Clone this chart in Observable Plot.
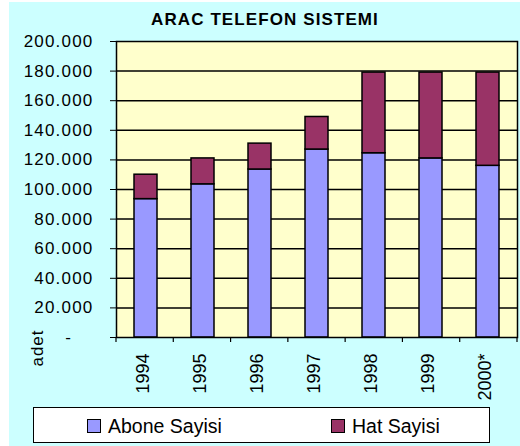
<!DOCTYPE html>
<html><head><meta charset="utf-8">
<script src="https://cdn.jsdelivr.net/npm/d3@7"></script>
<script src="https://cdn.jsdelivr.net/npm/@observablehq/plot@0.6"></script>
<style>
body{margin:0;background:#fff;}
#wrap{position:relative;width:520px;height:446px;overflow:hidden;font-family:"Liberation Sans",Arial,sans-serif;}
#bg{position:absolute;left:9px;top:2px;right:0;bottom:0;background:#CCFFFF;}
#title{position:absolute;left:0;width:530px;top:11px;line-height:17px;text-align:center;font-weight:bold;font-size:17px;letter-spacing:1.1px;color:#000;}
#chart{position:absolute;left:0;top:0;}
#legend{position:absolute;left:33px;top:407px;width:455px;height:34px;background:#fff;border:1px solid #000;}
.item{position:absolute;top:0;height:34px;font-size:19.5px;line-height:34px;color:#000;white-space:nowrap;}
.sw{position:absolute;top:11px;width:12px;height:12px;border:1px solid #000;}
.lab{position:absolute;top:1px;}
</style>
</head><body>
<div id="wrap">
  <div id="bg"></div>
  <div id="chart"></div>
  <div id="title">ARAC TELEFON SISTEMI</div>
  <div id="legend"></div>
</div>
<script>
const years = ["1994","1995","1996","1997","1998","1999","2000*"];
const seriesNames = ["Abone Sayisi","Hat Sayisi"];
const aboneSayisi = [93500,103500,113500,127000,124500,121000,116000];
const hatSayisi = [16500,17500,17500,22000,54500,58000,63000];
const seriesColors = ["#9999FF","#993366"];
const yTicks = [0,20000,40000,60000,80000,100000,120000,140000,160000,180000,200000];
const yLabel = "adet";

const data = years.flatMap((y,i)=>[
  {year:y, series:seriesNames[0], value:aboneSayisi[i]},
  {year:y, series:seriesNames[1], value:hatSayisi[i]}
]);

const fmt = d => d === 0 ? "-\u2007\u2007" : d3.format(",")(d).replace(/,/g,".");

const plot = Plot.plot({
  width: 520,
  height: 400,
  marginLeft: 116,
  marginRight: 3,
  marginTop: 41,
  marginBottom: 63,
  style: {background:"transparent", fontFamily:"'Liberation Sans', Arial, sans-serif", color:"#000"},
  x: {domain: years, paddingInner: 0.59, paddingOuter: 0.295, axis: null},
  y: {domain: [0,200000], axis: null},
  color: {domain: seriesNames, range: seriesColors},
  marks: [
    Plot.frame({fill:"#FFFFCC", stroke:null}),
    Plot.ruleY(yTicks.slice(1,-1), {stroke:"#000", strokeWidth:1.5}),
    Plot.barY(data, {x:"year", y:"value", fill:"series", stroke:"#000", strokeWidth:1.5, order: seriesNames}),
    Plot.frame({stroke:"#000", strokeWidth:1.5}),
    Plot.axisY({ticks: yTicks, tickSize: 6, tickPadding: 17, tickFormat: fmt, fontSize: 17, stroke:"#000", label: null}),
    Plot.axisX({tickSize: 0, tickRotate: -90, tickPadding: 16, fontSize: 18, dx: -3, label: null})
  ]
});
document.getElementById("chart").appendChild(plot);

const svg = d3.select(plot);
svg.selectAll('g[aria-label="y-axis tick label"] text').attr("letter-spacing","1.2px");

// category boundary ticks (Excel style)
const xs = plot.scale("x");
const r = xs.range;
const step = (r[1]-r[0]) / years.length;
const y0 = plot.scale("y").apply(0);
const g = svg.append("g").attr("stroke","#000").attr("stroke-width",1.2);
d3.range(years.length+1).forEach(i=>{
  const x = r[0] + i*step;
  g.append("line").attr("x1",x).attr("x2",x).attr("y1",y0).attr("y2",y0+5);
});

// y-axis title
svg.append("text").attr("transform",`translate(43,348) rotate(-90)`)
  .attr("text-anchor","middle").attr("font-size",17).attr("letter-spacing","1px").attr("fill","#000").text(yLabel);

// legend
const legend = document.getElementById("legend");
const pos = [{sw:53, lab:74},{sw:297, lab:318}];
seriesNames.forEach((s,i)=>{
  const it = document.createElement("div");
  it.className="item"; it.style.left="0px";
  it.innerHTML = `<div class="sw" style="left:${pos[i].sw}px;background:${seriesColors[i]}"></div><span class="lab" style="left:${pos[i].lab}px">${s}</span>`;
  legend.appendChild(it);
});
</script>
</body></html>
